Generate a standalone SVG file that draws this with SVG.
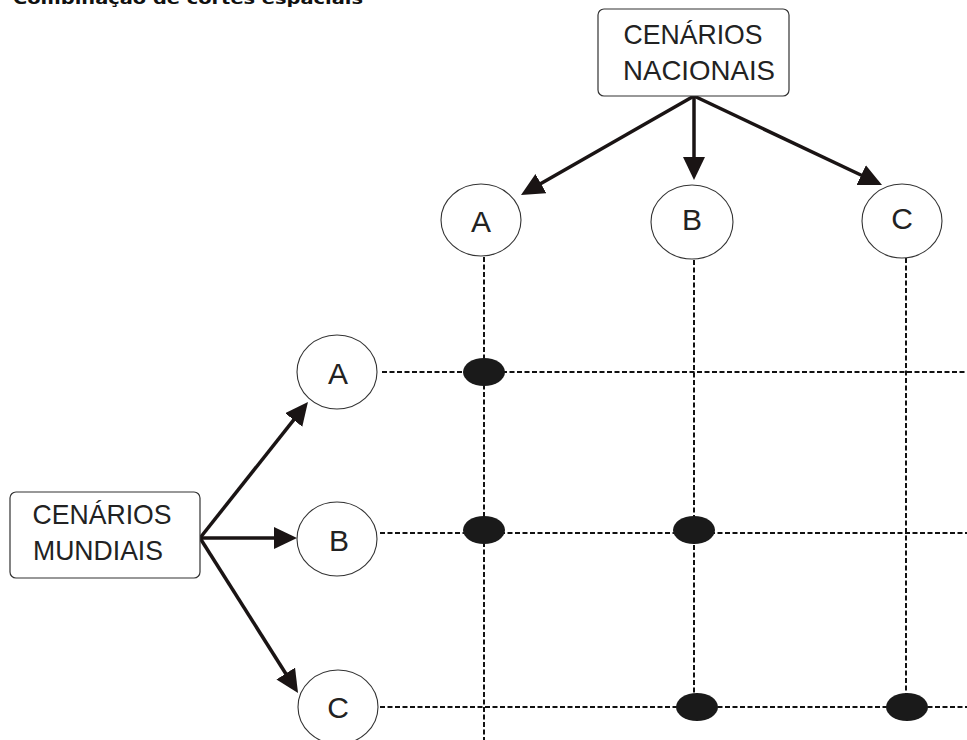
<svg xmlns="http://www.w3.org/2000/svg" width="967" height="740" viewBox="0 0 967 740">
<style>
.box{fill:#fff;stroke:#333;stroke-width:1.2}
.node{fill:#fff;stroke:#333;stroke-width:1.1}
.lbl{font-family:"Liberation Sans",Arial,sans-serif;font-size:28px;fill:#222;text-anchor:middle}
.let{font-family:"Liberation Sans",Arial,sans-serif;font-size:30px;fill:#222;text-anchor:middle}
.arrow{stroke:#1a1414;stroke-width:3.5;fill:none;marker-end:url(#ah)}
.grid{stroke:#111;stroke-width:2;stroke-dasharray:5 2.5;fill:none}
.dot{fill:#1a1a1a}
.title{font-family:"DejaVu Sans",Verdana,sans-serif;font-weight:bold;font-size:16px;fill:#111}
</style>
<defs>
<marker id="ah" markerUnits="userSpaceOnUse" markerWidth="24" markerHeight="23" refX="2" refY="11" orient="auto">
<path d="M0,0 L23,11 L0,22 z" fill="#1a1414"/>
</marker>
</defs>
<rect width="967" height="740" fill="#fff"/>
<text class="title" x="13" y="4" textLength="350" lengthAdjust="spacingAndGlyphs">Combinação de cortes espaciais</text>

<g id="connectors">
<line class="grid" x1="484" y1="257" x2="484" y2="740"/>
<line class="grid" x1="694" y1="260" x2="694" y2="707"/>
<line class="grid" x1="906" y1="258" x2="906" y2="707"/>
<line class="grid" x1="382" y1="372" x2="967" y2="372"/>
<line class="grid" x1="380" y1="533" x2="967" y2="533"/>
<line class="grid" x1="380" y1="707" x2="967" y2="707"/>
<line class="arrow" x1="694" y1="96" x2="539.2" y2="184.6"/>
<line class="arrow" x1="694" y1="96" x2="694" y2="159"/>
<line class="arrow" x1="694" y1="96" x2="863" y2="176"/>
<line class="arrow" x1="200" y1="538" x2="294.9" y2="418.4"/>
<line class="arrow" x1="200" y1="538" x2="276" y2="538"/>
<line class="arrow" x1="200" y1="538" x2="286.8" y2="675.2"/>
</g>

<g id="nacionais">
<rect class="box" x="598" y="9" width="191" height="87" rx="6"/>
<text class="lbl" x="693" y="44" textLength="139" lengthAdjust="spacingAndGlyphs">CENÁRIOS</text>
<text class="lbl" x="699" y="80" textLength="152" lengthAdjust="spacingAndGlyphs">NACIONAIS</text>
</g>
<g id="mundiais">
<rect class="box" x="10" y="492" width="190" height="86" rx="6"/>
<text class="lbl" x="102" y="524" textLength="139" lengthAdjust="spacingAndGlyphs">CENÁRIOS</text>
<text class="lbl" x="98" y="560" textLength="130" lengthAdjust="spacingAndGlyphs">MUNDIAIS</text>
</g>

<g id="nac-a"><ellipse class="node" cx="481" cy="220" rx="40" ry="36"/><text class="let" x="481" y="232">A</text></g>
<g id="nac-b"><ellipse class="node" cx="692" cy="222" rx="41" ry="37"/><text class="let" x="692" y="230">B</text></g>
<g id="nac-c"><ellipse class="node" cx="902" cy="221" rx="40" ry="37"/><text class="let" x="902" y="229">C</text></g>

<g id="mun-a"><ellipse class="node" cx="337" cy="372" rx="40" ry="37"/><text class="let" x="338" y="384">A</text></g>
<g id="mun-b"><ellipse class="node" cx="337" cy="539" rx="40" ry="37"/><text class="let" x="339" y="551">B</text></g>
<g id="mun-c"><ellipse class="node" cx="338" cy="707" rx="40" ry="37"/><text class="let" x="338" y="718">C</text></g>

<g id="dots">
<ellipse class="dot" cx="484" cy="372" rx="21" ry="14"/>
<ellipse class="dot" cx="484" cy="530" rx="21" ry="14"/>
<ellipse class="dot" cx="694" cy="530" rx="21" ry="14"/>
<ellipse class="dot" cx="697" cy="707" rx="21" ry="14"/>
<ellipse class="dot" cx="907" cy="707" rx="21" ry="14"/>
</g>
</svg>
